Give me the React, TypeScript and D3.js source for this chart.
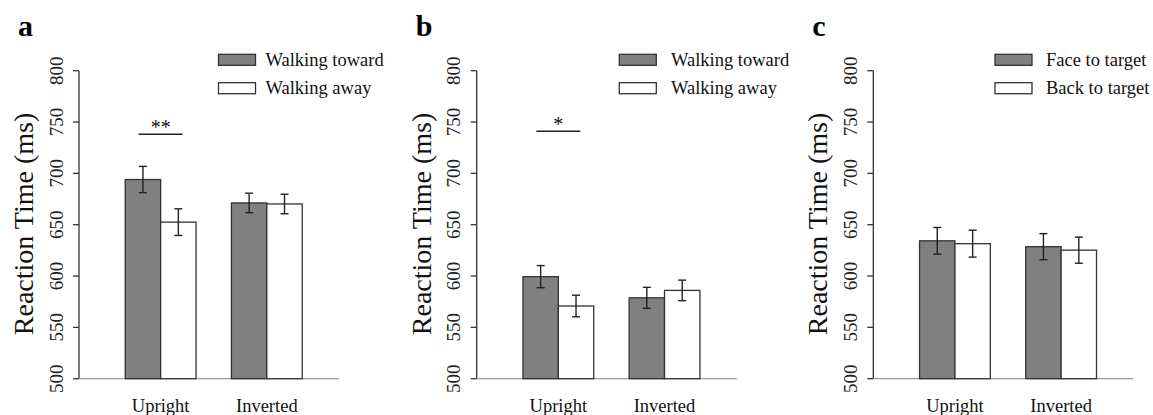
import * as d3 from 'd3'

// tick labels and categories
const yTicks = [500, 550, 600, 650, 700, 750, 800]
const categories = ['Upright', 'Inverted']

// panel a
const legendA = ['Walking toward', 'Walking away']
const meansA = [[694, 652.5], [671.2, 670.2]]
const errA = [12.8, 13, 9.5, 9.5]

// panel b
const legendB = ['Walking toward', 'Walking away']
const meansB = [[599.4, 570.8], [578.8, 586]]
const errB = [10.8, 10.5, 10.2, 10]

// panel c
const legendC = ['Face to target', 'Back to target']
const meansC = [[634.3, 631.5], [628.6, 625.2]]
const errC = [13, 13.1, 12.7, 12.7]

const panels = [
    {letter: 'a', legend: legendA, means: meansA, errs: errA, sig: '**', sigY: 738, x0: 79, legRect: 139.5, legText: 186.5},
    {letter: 'b', legend: legendB, means: meansB, errs: errB, sig: '*', sigY: 741, x0: 476.7, legRect: 142.6, legText: 194.3},
    {letter: 'c', legend: legendC, means: meansC, errs: errC, sig: null, sigY: 0, x0: 873.3, legRect: 121.7, legText: 172.7},
]

const font = '"Liberation Serif", "Times New Roman", serif'
const fills = ['#808080', '#ffffff']

const Panel = ({p}) => {
    const w = 260
    const y = d3.scaleLinear().domain([500, 800]).range([378.7, 70.7])
    const x = d3.scaleBand().domain(categories).range([0, w])
        .paddingInner(1 / 3).paddingOuter(0.391).align(0.557)
    const inner = d3.scaleBand().domain(['0', '1']).range([0, x.bandwidth()])

    return (
        <g transform={`translate(${p.x0},0)`}>
            <text x={-61} y={36} fontFamily={font} fontSize={30} fontWeight="bold">{p.letter}</text>
            {/* y axis */}
            <line x1={0} x2={0} y1={y(800)} y2={y(500)} stroke="#333" strokeWidth={1.3}/>
            {yTicks.map(t => (
                <g key={t}>
                    <line x1={-6} x2={0} y1={y(t)} y2={y(t)} stroke="#333" strokeWidth={1.3}/>
                    <text transform={`translate(${-16.5},${y(t)}) rotate(-90)`} textAnchor="middle"
                          fontFamily={font} fontSize={19} fill="#222">{t}</text>
                </g>
            ))}
            <text transform={`translate(${-46},${224}) rotate(-90)`} textAnchor="middle"
                  fontFamily={font} fontSize={28} fill="#111">Reaction Time (ms)</text>
            {/* x axis line */}
            <line x1={0} x2={w} y1={y(500)} y2={y(500)} stroke="#999" strokeWidth={1.3}/>

            {categories.map((c, i) => (
                <g key={c} transform={`translate(${x(c)},0)`}>
                    {p.means[i].map((m, j) => {
                        const bx = inner(String(j))
                        const cx = bx + inner.bandwidth() / 2
                        const e = p.errs[i * 2 + j]
                        return (
                            <g key={j}>
                                <rect x={bx} y={y(m)} width={inner.bandwidth()} height={y(500) - y(m)}
                                      fill={fills[j]} stroke="#333" strokeWidth={1.3}/>
                                <line x1={cx} x2={cx} y1={y(m + e)} y2={y(m - e)} stroke="#222" strokeWidth={1.4}/>
                                <line x1={cx - 4} x2={cx + 4} y1={y(m + e)} y2={y(m + e)} stroke="#222" strokeWidth={1.4}/>
                                <line x1={cx - 4} x2={cx + 4} y1={y(m - e)} y2={y(m - e)} stroke="#222" strokeWidth={1.4}/>
                            </g>
                        )
                    })}
                    <text x={x.bandwidth() / 2} y={412} textAnchor="middle" fontFamily={font} fontSize={18.5} fill="#111">{c}</text>
                </g>
            ))}

            {p.sig && (
                <g>
                    <line x1={x('Upright') + x.bandwidth() / 2 - 22} x2={x('Upright') + x.bandwidth() / 2 + 22}
                          y1={y(p.sigY)} y2={y(p.sigY)} stroke="#222" strokeWidth={1.5}/>
                    <text x={x('Upright') + x.bandwidth() / 2} y={y(p.sigY) - 0.5} textAnchor="middle"
                          fontFamily={font} fontSize={20} fill="#111">{p.sig}</text>
                </g>
            )}

            {/* legend */}
            {p.legend.map((l, j) => (
                <g key={l} transform={`translate(0,${j * 28.4})`}>
                    <rect x={p.legRect} y={54.3} width={37} height={11} fill={fills[j]} stroke="#333" strokeWidth={1.3}/>
                    <text x={p.legText} y={66} fontFamily={font} fontSize={18.5} fill="#111">{l}</text>
                </g>
            ))}
        </g>
    )
}

export default function App() {
    return (
        <svg width={1153} height={415} style={{position: 'absolute', left: 0, top: 0, background: '#fff'}}>
            {panels.map(p => <Panel key={p.letter} p={p}/>)}
        </svg>
    )
}
